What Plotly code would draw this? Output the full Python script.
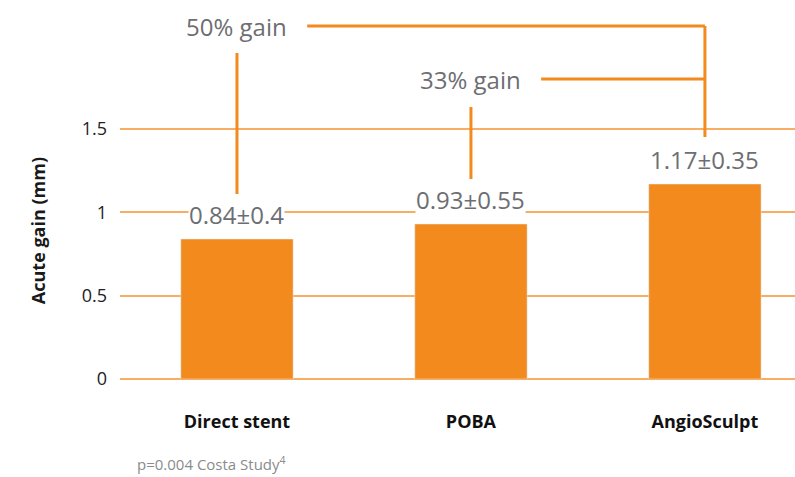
import plotly.graph_objects as go

categories = ["Direct stent", "POBA", "AngioSculpt"]
values = [0.84, 0.93, 1.17]
value_labels = ["0.84±0.4", "0.93±0.55", "1.17±0.35"]
tick_vals = [0, 0.5, 1, 1.5]
tick_text = ["0", "0.5", "1", "1.5"]

# comparison brackets
gain_labels = ["50% gain", "33% gain"]
gain_from = [0, 1]
gain_to = [2, 2]
gain_level = [2.118, 1.80]
gain_stem_top = [1.956, 1.632]
gain_stem_bottom = [1.11, 1.20]
target_stem_bottom = 1.452
gain_text_halfwidth = 0.30  # in category units

ORANGE = "#f28a1e"
GRID = "#f7ad64"
GRAY = "#6d6e71"
FONT = "Open Sans"

fig = go.Figure()
fig.add_trace(go.Bar(
    x=categories, y=values, marker_color=ORANGE, width=0.48,
    hoverinfo="skip", showlegend=False,
))

shapes = []
annotations = []
for c, v, lab in zip(categories, values, value_labels):
    annotations.append(dict(
        x=c, y=v, xref="x", yref="y", text=lab, showarrow=False,
        yshift=25, font=dict(family=FONT, size=24, color=GRAY),
        bgcolor="white", borderpad=0,
    ))

line = dict(color=ORANGE, width=3)
for lab, f, t, lvl, st, sb in zip(gain_labels, gain_from, gain_to, gain_level,
                                  gain_stem_top, gain_stem_bottom):
    annotations.append(dict(
        x=f, y=lvl, xref="x", yref="y", text=lab, showarrow=False,
        font=dict(family=FONT, size=24, color=GRAY),
    ))
    shapes.append(dict(type="line", xref="x", yref="y",
                       x0=f + gain_text_halfwidth, x1=t, y0=lvl, y1=lvl, line=line))
    shapes.append(dict(type="line", xref="x", yref="y",
                       x0=f, x1=f, y0=st, y1=sb, line=line))

shapes.append(dict(type="line", xref="x", yref="y",
                   x0=gain_to[0], x1=gain_to[0], y0=max(gain_level), y1=target_stem_bottom,
                   line=line))

annotations.append(dict(
    x=0, y=0, xref="paper", yref="paper", xshift=15, yshift=-97,
    text="p=0.004 Costa Study<sup>4</sup>", showarrow=False,
    xanchor="left", yanchor="bottom",
    font=dict(family=FONT, size=15, color="#8a8b8d"),
))
annotations.append(dict(
    x=0, y=0.39, xref="paper", yref="paper", xshift=-82,
    xanchor="center", yanchor="middle",
    text="<b>Acute gain (mm)</b>", showarrow=False, textangle=-90,
    font=dict(family=FONT, size=18, color="#1a1a1a"),
))

fig.update_layout(
    width=795, height=477,
    margin=dict(l=120, r=0, t=0, b=98),
    plot_bgcolor="white", paper_bgcolor="white",
    shapes=shapes, annotations=annotations,
    xaxis=dict(
        range=[-0.5, 2.385], showgrid=False, zeroline=False, showline=False,
        tickfont=dict(family=FONT, size=18, color="#111111"),
        ticklabelstandoff=30,
        tickmode="array", tickvals=categories,
        ticktext=["<b>" + c + "</b>" for c in categories],
    ),
    yaxis=dict(
        range=[0, 2.274], tickvals=tick_vals, ticktext=tick_text,
        showgrid=True, gridcolor=GRID, gridwidth=1.5,
        zeroline=True, zerolinecolor=GRID, zerolinewidth=1.5,
        showline=False, ticklabelstandoff=12,
        tickfont=dict(family=FONT, size=18, color="#222222"),
    ),
)

fig.write_html("out.html")
